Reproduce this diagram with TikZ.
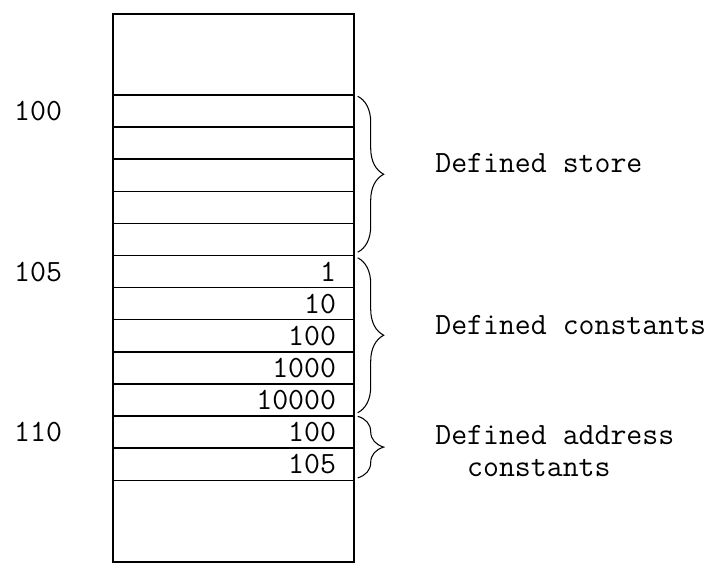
\documentclass[tikz,border=0pt]{standalone}
\usepackage{fontspec}
\usetikzlibrary{positioning,decorations.pathreplacing}
\tikzset{
  cell/.style={draw,line width=.8pt,minimum width=4.82cm,minimum height=.642cm,
    text width=4.1cm,align=right,inner xsep=.36cm,inner ysep=0pt},
  addr/.style={inner sep=0pt},
  memo/.style={inner sep=0pt,anchor=west,align=left},
  curly/.style={decorate,decoration={brace,amplitude=.52cm},line width=.6pt}
}
\begin{document}
\begin{tikzpicture}[font=\fontsize{17.6}{18.2}\selectfont\ttfamily]
\useasboundingbox (0,0) rectangle (14.32,11.48);
% the store, with its rows
\draw[line width=.8pt](2.26,.24) rectangle (7.08,11.2);
\foreach \v [count=\i from 0] in {{},{},{},{},{},1,10,100,1000,10000,100,105}
  \node[cell](r\i) at (4.67,9.259-.642*\i) {\v};
% addresses
\node[addr,left=1.0cm of r0.west](a100){100};
\node[addr,left=1.0cm of r5.west](a105){105};
\node[addr,left=1.0cm of r10.west](a110){110};
% braces
\draw[curly]([xshift=.06cm,yshift=-.04cm]r0.north east)--([xshift=.06cm,yshift=.08cm]r4.south east);
\draw[curly]([xshift=.06cm,yshift=-.06cm]r5.north east)--([xshift=.06cm,yshift=.08cm]r9.south east);
\draw[curly]([xshift=.06cm,yshift=-.02cm]r10.north east)--([xshift=.06cm,yshift=.06cm]r11.south east);
\node[memo](store) at (8.7,8.22){Defined store};
\node[memo](const) at (8.7,4.98){Defined constants};
\node[memo](adcon) at (8.7,2.46){Defined address\\\phantom{De}constants};
\end{tikzpicture}
\end{document}
